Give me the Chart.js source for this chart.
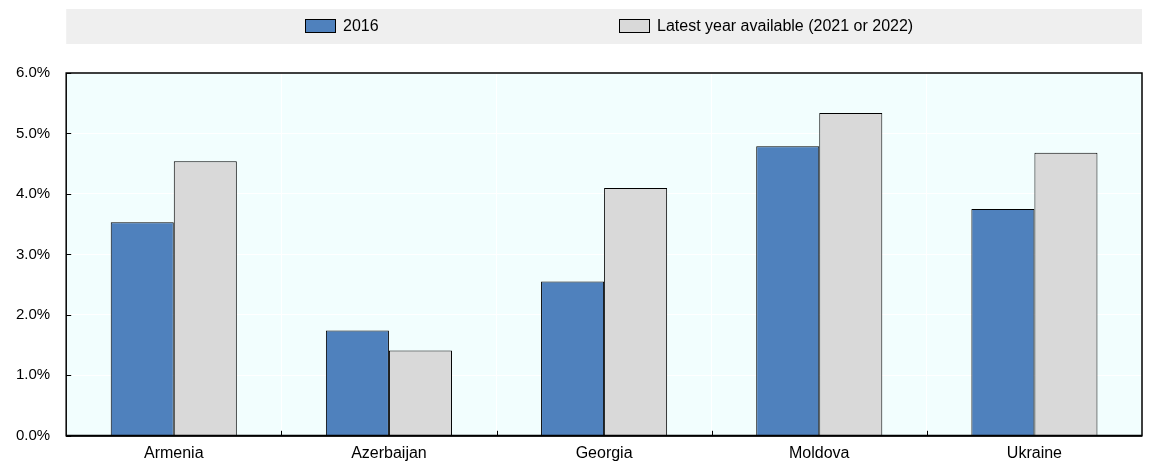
<!DOCTYPE html>
<html>
<head>
<meta charset="utf-8">
<script src="https://cdn.jsdelivr.net/npm/chart.js@4"></script>
<style>
    html, body { margin: 0; padding: 0; background: #fff; }
    #wrap { width: 1153px; height: 461px; }
</style>
</head>
<body>
<div id="wrap"><canvas id="chart" width="1153" height="461"></canvas></div>
<script>
const countries = ['Armenia', 'Azerbaijan', 'Georgia', 'Moldova', 'Ukraine']
const values2016 = [3.53, 1.74, 2.55, 4.79, 3.75]
const valuesLatest = [4.54, 1.41, 4.10, 5.34, 4.68]
const seriesNames = ['2016', 'Latest year available (2021 or 2022)']
const yTicks = [0, 1, 2, 3, 4, 5, 6]

const FONT = 'Liberation Sans, Arial, sans-serif'

// background, frame, inner ticks and the legend band
const decor = {
    id: 'decor',
    beforeDraw(chart) {
        const { ctx, chartArea: a } = chart
        ctx.save()
        ctx.fillStyle = '#F2FEFE'
        ctx.fillRect(a.left, a.top, a.right - a.left, a.bottom - a.top)
        ctx.restore()
    },
    afterDatasetsDraw(chart) {
        const { ctx, chartArea: a, scales } = chart
        ctx.save()
        ctx.strokeStyle = '#000'
        ctx.lineWidth = 1.5
        ctx.strokeRect(a.left, a.top, a.right - a.left, a.bottom - a.top)
        ctx.lineWidth = 1
        yTicks.forEach(v => {
            const y = Math.round(scales.y.getPixelForValue(v)) + 0.5
            ctx.beginPath()
            ctx.moveTo(a.left, y)
            ctx.lineTo(a.left + 5, y)
            ctx.stroke()
        })
        const step = (a.right - a.left) / countries.length
        for (let i = 1; i < countries.length; i++) {
            const x = Math.round(a.left + step * i) + 0.5
            ctx.beginPath()
            ctx.moveTo(x, a.bottom)
            ctx.lineTo(x, a.bottom - 5)
            ctx.stroke()
        }
        ctx.lineWidth = 2
        ctx.beginPath()
        ctx.moveTo(a.left, a.bottom)
        ctx.lineTo(a.right, a.bottom)
        ctx.stroke()
        ctx.restore()
    },
    afterDraw(chart) {
        const { ctx, chartArea: a } = chart
        ctx.save()
        ctx.fillStyle = '#EFEFEF'
        ctx.fillRect(a.left, 9, a.right - a.left, 35)
        const xs = [305, 619]
        ctx.font = '16px ' + FONT
        ctx.textBaseline = 'middle'
        chart.data.datasets.forEach((ds, i) => {
            ctx.fillStyle = ds.backgroundColor
            ctx.strokeStyle = '#000'
            ctx.lineWidth = 1
            ctx.fillRect(xs[i] + 0.5, 19.5, 30, 13)
            ctx.strokeRect(xs[i] + 0.5, 19.5, 30, 13)
            ctx.fillStyle = '#000'
            ctx.fillText(ds.label, xs[i] + 38, 26.5)
        })
        ctx.restore()
    }
}

new Chart(document.getElementById('chart'), {
    type: 'bar',
    data: {
        labels: countries,
        datasets: [{
            label: seriesNames[0],
            data: values2016,
            backgroundColor: '#4F81BD',
            borderColor: '#000',
            borderWidth: 1
        }, {
            label: seriesNames[1],
            data: valuesLatest,
            backgroundColor: '#D9D9D9',
            borderColor: '#000',
            borderWidth: 1
        }]
    },
    options: {
        responsive: false,
        animation: false,
        layout: { padding: { top: 73, right: 11, left: 0, bottom: -10 } },
        datasets: {
            bar: { categoryPercentage: 0.586, barPercentage: 1.0 }
        },
        plugins: {
            legend: { display: false },
            tooltip: { enabled: false }
        },
        scales: {
            x: {
                grid: { color: '#FFFFFF', lineWidth: 1, offset: true, drawTicks: false },
                border: { display: false },
                ticks: { color: '#000', font: { family: FONT, size: 16 }, padding: 8, maxRotation: 0 }
            },
            y: {
                min: 0,
                max: 6,
                grid: { color: '#FFFFFF', lineWidth: 1, drawTicks: false },
                border: { display: false },
                ticks: {
                    stepSize: 1,
                    color: '#000',
                    font: { family: FONT, size: 15 },
                    padding: 16,
                    callback: v => v.toFixed(1) + '%'
                }
            }
        }
    },
    plugins: [decor]
})
</script>
</body>
</html>
